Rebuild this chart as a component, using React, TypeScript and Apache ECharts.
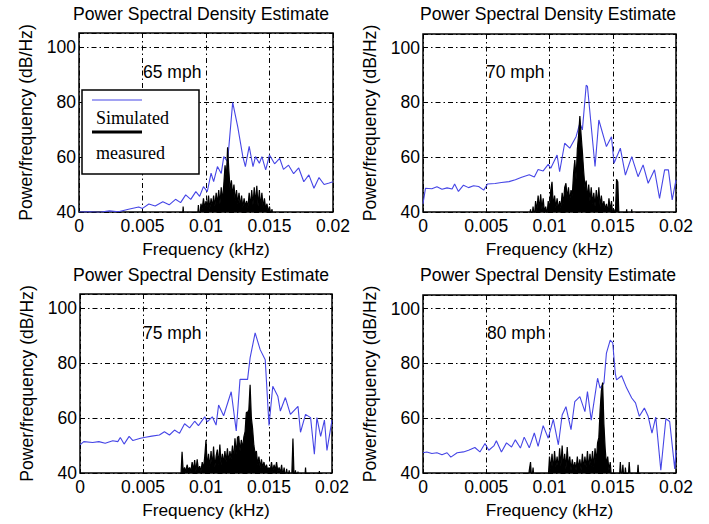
import React, { useEffect, useRef } from "react";
import * as echarts from "echarts";

// ---------- data ----------
const panelTitles = [
  "Power Spectral Density Estimate",
  "Power Spectral Density Estimate",
  "Power Spectral Density Estimate",
  "Power Spectral Density Estimate",
];
const speedLabels = ["65 mph", "70 mph", "75 mph", "80 mph"];
const legendLabels = ["Simulated", "measured"];
const xTicks = [0, 0.005, 0.01, 0.015, 0.02];
const yTicks = [40, 60, 80, 100];

// Simulated PSD: [frequency kHz, dB/Hz]
const sim65: [number, number][] = [
  [0, 40], [0.0008, 40.1], [0.0016, 39.9], [0.0024, 40.4], [0.0031, 40.1], [0.0039, 41.0],
  [0.0047, 41.8], [0.005, 41.3], [0.0055, 42.9], [0.006, 42.2], [0.0066, 43.7], [0.0071, 42.6],
  [0.0076, 44.6], [0.008, 43.4], [0.0084, 46.2], [0.0088, 44.6], [0.0092, 47.4], [0.0095, 45.7],
  [0.0098, 49.2], [0.0101, 47.4], [0.0104, 54.1], [0.0106, 51.0], [0.0109, 56.5], [0.0112, 54.0],
  [0.0114, 60.1], [0.0117, 58.3], [0.0121, 79.8], [0.0125, 70.9], [0.0129, 60.1], [0.0131, 56.5],
  [0.0134, 63.8], [0.0137, 56.5], [0.0139, 60.1], [0.0142, 57.7], [0.0144, 60.1], [0.0147, 55.3],
  [0.015, 60.7], [0.0154, 57.5], [0.0158, 59.5], [0.0161, 55.5], [0.0165, 57.0], [0.0169, 53.9],
  [0.0173, 56.0], [0.0177, 51.0], [0.0181, 53.5], [0.0185, 48.6], [0.0189, 52.5], [0.0193, 50.0],
  [0.0197, 50.5], [0.02, 51.0],
];
const sim70: [number, number][] = [
  [0, 43], [0.0002, 48.7], [0.0007, 48.5], [0.0011, 49.2], [0.0015, 48.3], [0.0019, 48.8],
  [0.0023, 48.4], [0.0025, 50.2], [0.0028, 47.5], [0.0032, 49.8], [0.0036, 48.9], [0.004, 49.6],
  [0.0044, 49.3], [0.0048, 48.0], [0.0051, 50.2], [0.0057, 50.4], [0.0062, 50.8], [0.0068, 51.1],
  [0.0073, 51.8], [0.0078, 52.7], [0.0084, 53.6], [0.0088, 52.8], [0.0091, 55.5], [0.0095, 55.0],
  [0.0099, 57.4], [0.0101, 56.0], [0.0106, 60.8], [0.0108, 54.7], [0.0112, 65.1], [0.0116, 63.3],
  [0.0121, 67.5], [0.0124, 72.4], [0.0126, 70.0], [0.0129, 86.3], [0.013, 85.9], [0.0136, 56.6],
  [0.0139, 73.6], [0.0145, 63.9], [0.0149, 67.5], [0.0151, 57.8], [0.0156, 63.3], [0.016, 53.5],
  [0.0165, 60.2], [0.017, 52.9], [0.0174, 57.2], [0.0178, 50.5], [0.0183, 55.4], [0.0187, 45.0],
  [0.0191, 55.4], [0.0194, 55.4], [0.0197, 44.4], [0.02, 51.7],
];
const sim75: [number, number][] = [
  [0, 50.2], [0.0003, 51.4], [0.001, 51.1], [0.0015, 51.4], [0.002, 50.8], [0.0026, 51.7],
  [0.003, 51.4], [0.0032, 52.9], [0.0035, 50.5], [0.0039, 53.3], [0.0042, 51.8], [0.0048, 52.6],
  [0.0052, 53.0], [0.0057, 53.4], [0.0063, 53.8], [0.0067, 55.0], [0.0071, 53.8], [0.0075, 55.6],
  [0.0079, 54.4], [0.0083, 57.9], [0.0087, 56.4], [0.0091, 58.8], [0.0094, 57.2], [0.0099, 60.4],
  [0.0101, 58.6], [0.0105, 60.4], [0.0108, 57.4], [0.011, 64.7], [0.0114, 60.8], [0.012, 69.5],
  [0.0124, 55.3], [0.0127, 74.0], [0.0133, 74.0], [0.0135, 81.8], [0.0139, 90.9], [0.0143, 84.8],
  [0.0147, 81.1], [0.015, 57.3], [0.0153, 71.5], [0.0157, 67.9], [0.0159, 62.5], [0.0163, 67.4],
  [0.0167, 61.3], [0.0173, 64.2], [0.0175, 54.8], [0.0179, 61.3], [0.0183, 60.1], [0.0186, 46.8],
  [0.0188, 60.1], [0.0191, 53.3], [0.0194, 59.2], [0.0196, 48.2], [0.02, 59.2],
];
const sim80: [number, number][] = [
  [0, 47.4], [0.0003, 47.7], [0.0007, 47.1], [0.0011, 47.4], [0.0015, 46.7], [0.0019, 47.4],
  [0.0022, 45.8], [0.0027, 47.4], [0.0032, 47.7], [0.0036, 48.3], [0.0041, 49.3], [0.0045, 47.7],
  [0.0049, 50.8], [0.0052, 48.3], [0.0056, 49.9], [0.0058, 51.8], [0.0062, 47.7], [0.0066, 51.0],
  [0.007, 49.5], [0.0073, 52.1], [0.0077, 49.1], [0.008, 53.1], [0.0084, 49.2], [0.0088, 54.6],
  [0.0091, 49.7], [0.0095, 57.3], [0.0099, 52.7], [0.0103, 59.6], [0.0107, 50.3], [0.011, 61.2],
  [0.0113, 64.2], [0.0117, 55.8], [0.012, 66.1], [0.0124, 67.9], [0.0128, 62.4], [0.013, 69.7],
  [0.0133, 59.3], [0.0138, 74.6], [0.014, 71.0], [0.0143, 72.8], [0.0145, 83.8], [0.0148, 88.5],
  [0.015, 87.5], [0.0152, 76.4], [0.0153, 74.0], [0.0157, 75.5], [0.0161, 71.0], [0.0165, 67.4],
  [0.0168, 65.6], [0.0171, 60.7], [0.0175, 63.7], [0.0178, 60.7], [0.0181, 54.6], [0.0184, 60.4],
  [0.0188, 41.0], [0.0192, 59.8], [0.0195, 58.8], [0.0199, 41.5], [0.02, 48.3],
];

// Measured PSD: sampled every MEAS_STEP kHz starting at measXXStart
const MEAS_STEP = 0.0001;
const meas65Start = 0.008;
const meas65 = [
  36, 34, 42, 35, 37, 34, 36, 35, 37, 34, 36, 35, 37, 36, 42.5, 37,
  43, 41, 45, 41.5, 44, 42, 46, 41, 45, 42, 46, 42, 47, 43, 48, 43, 49, 44, 50, 57,
  52, 63.5, 55, 48, 51.5, 46, 50, 44, 48, 43, 47, 42, 46, 41.5, 45, 42, 44, 41.5, 47, 42,
  48, 42.5, 49, 43, 49.5, 42, 48, 42, 47, 41.5, 45, 41, 43, 40, 42, 39, 41, 36, 35,
];
const meas70Start = 0.0084;
const meas70 = [
  38, 41, 37, 42, 38, 44, 40.5, 46, 41, 46.5,
  41, 45, 40, 42, 39, 44, 41, 48, 51, 42,
  46, 41.5, 45, 41, 44, 41.5, 47, 43, 49, 50.5,
  45, 49, 44, 48, 46, 54, 59, 52, 63, 68,
  75, 68, 62, 55, 49, 51.5, 45, 50, 44, 49,
  43, 47, 42, 48, 42.5, 49, 42, 46, 41.5, 44,
  41, 43, 40, 45, 40.5, 44, 39, 41, 38, 52,
  51, 37, 36, 37, 36, 35, 36, 41, 35, 36,
  35, 41, 35,
];
const meas75Start = 0.0078;
const meas75 = [
  36, 37, 38, 47.7, 40, 42, 40.5, 43, 41, 42,
  40.5, 44, 41, 44.7, 40.5, 45, 41, 42.5, 40.5, 44,
  41.5, 46, 52, 42, 47, 42, 48, 42.5, 49.6, 42,
  46, 48.5, 43, 50.3, 43, 47, 43.5, 48, 44, 49,
  44, 48, 45, 50, 45, 52.6, 47, 53, 53.3, 48,
  52, 49, 53, 55, 62, 62, 63, 72, 60, 56,
  50, 47, 48, 43, 46, 42, 45, 42, 44, 41.5,
  43, 41, 42, 41, 44, 40.5, 43, 41, 44, 40.5,
  42, 40, 43, 39, 42, 38, 41.5, 38, 41, 37,
  38, 52.5, 37, 41, 36, 40.5, 36, 37, 35, 36,
  35, 42, 35, 36, 35, 36, 35, 36, 35, 36,
  35, 36, 40.7, 35,
];
const meas80Start = 0.0079;
const meas80 = [
  36, 37, 36, 38, 36, 41, 44, 37, 42, 36,
  38, 37, 36, 38, 36, 37, 36, 38, 36, 37,
  38, 46, 41.5, 47, 41, 48, 42, 46, 41.5, 49,
  42.5, 50, 42, 47, 41.5, 49.5, 42, 46, 41, 45,
  41.5, 44, 41, 46, 41.5, 45, 41, 47, 41.5, 46,
  42, 48, 41.5, 47, 42.5, 48, 42, 49, 44, 51,
  53, 63, 70, 73, 58, 49, 43, 46, 41, 44,
  38, 39, 37, 38, 36, 37, 36, 44, 37, 43,
  36, 42, 37, 36, 44, 37, 36, 35, 36, 35,
  36, 43, 36, 35,
];

const simSeries = [sim65, sim70, sim75, sim80];
const measSeries: [number, number[]][] = [
  [meas65Start, meas65],
  [meas70Start, meas70],
  [meas75Start, meas75],
  [meas80Start, meas80],
];

// ---------- layout ----------
const FONT = "Liberation Sans";
const grids = [
  { left: 79, top: 33, width: 254, height: 179 },
  { left: 423, top: 34, width: 253, height: 178 },
  { left: 80, top: 294, width: 252, height: 179 },
  { left: 423, top: 295, width: 253, height: 178 },
];
const titlePos = [
  [201, 14],
  [548, 14],
  [201, 275],
  [548, 275],
];
const speedPos = [
  [143, 72],
  [486, 72],
  [143, 333],
  [487, 333],
];

const toPairs = (start: number, vals: number[]) =>
  vals.map((v, i) => [Math.round((start + i * MEAS_STEP) * 1e5) / 1e5, v]);

const fmtX = (v: number) => {
  const r = Math.round(v * 10000) / 10000;
  return xTicks.some((t) => Math.abs(t - r) < 1e-9) ? String(r) : "";
};
const fmtY = (v: number) => (yTicks.includes(Math.round(v)) ? String(Math.round(v)) : "");

const dashDot = [5, 3, 1.5, 3];

export default function App() {
  const ref = useRef<HTMLDivElement>(null);
  useEffect(() => {
    document.body.style.margin = "0";
    if (!ref.current) return;
    const chart = echarts.init(ref.current, undefined, { renderer: "svg" });

    const xAxis = grids.map((_, i) => ({
      type: "value",
      gridIndex: i,
      min: 0,
      max: 0.02,
      interval: 0.005,
      axisLine: { show: false },
      axisTick: { show: true, inside: true, length: 4, lineStyle: { color: "#000", width: 1 } },
      axisLabel: { color: "#000", fontFamily: FONT, fontSize: 17.5, margin: 5, formatter: fmtX },
      splitLine: { show: true, lineStyle: { color: "#000", width: 1, type: dashDot } },
      name: "Frequency (kHz)",
      nameLocation: "middle",
      nameGap: 28,
      nameTextStyle: { color: "#000", fontFamily: FONT, fontSize: 17.3 },
    }));
    const yAxis = grids.map((_, i) => ({
      type: "value",
      gridIndex: i,
      min: 40,
      max: 105,
      interval: 20,
      axisLine: { show: false },
      axisTick: { show: true, inside: true, length: 4, lineStyle: { color: "#000", width: 1 } },
      axisLabel: { color: "#000", fontFamily: FONT, fontSize: 17.5, margin: 3, formatter: fmtY },
      splitLine: { show: true, lineStyle: { color: "#000", width: 1, type: dashDot } },
      name: "Power/frequency (dB/Hz)",
      nameLocation: "middle",
      nameGap: 44,
      nameTextStyle: { color: "#000", fontFamily: FONT, fontSize: 17.6 },
    }));

    const series: any[] = [];
    grids.forEach((_, i) => {
      series.push({
        type: "line",
        name: legendLabels[0],
        xAxisIndex: i,
        yAxisIndex: i,
        data: simSeries[i],
        showSymbol: false,
        symbol: "none",
        lineStyle: { color: "#4646e6", width: 1.1 },
        z: 3,
      });
      series.push({
        type: "line",
        name: legendLabels[1],
        xAxisIndex: i,
        yAxisIndex: i,
        data: toPairs(measSeries[i][0], measSeries[i][1]),
        showSymbol: false,
        symbol: "none",
        lineStyle: { color: "#000", width: 1.2 },
        areaStyle: { color: "#000", opacity: 1 },
        z: 4,
      });
    });

    const graphic: any[] = [];
    panelTitles.forEach((t, i) => {
      graphic.push({
        type: "text",
        x: titlePos[i][0],
        y: titlePos[i][1],
        style: { text: t, fontFamily: FONT, fontSize: 17.6, fill: "#000", align: "center", verticalAlign: "middle" },
      });
    });
    speedLabels.forEach((t, i) => {
      graphic.push({
        type: "text",
        x: speedPos[i][0],
        y: speedPos[i][1],
        z: 50,
        style: { text: t, fontFamily: FONT, fontSize: 17.5, fill: "#000", align: "left", verticalAlign: "middle" },
      });
    });
    graphic.push({
      type: "group",
      z: 100,
      children: [
        { type: "rect", shape: { x: 82, y: 90, width: 117, height: 84 }, style: { fill: "#fff", stroke: "#000", lineWidth: 1.5 }, z: 100 },
        { type: "line", shape: { x1: 92, y1: 100, x2: 142, y2: 100 }, style: { stroke: "#4646e6", lineWidth: 1.2 }, z: 101 },
        { type: "text", x: 96, y: 118, z: 101, style: { text: legendLabels[0], fontFamily: "Liberation Serif", fontSize: 18, fill: "#000", align: "left", verticalAlign: "middle" } },
        { type: "line", shape: { x1: 92, y1: 132, x2: 142, y2: 132 }, style: { stroke: "#000", lineWidth: 3 }, z: 101 },
        { type: "text", x: 96, y: 153, z: 101, style: { text: legendLabels[1], fontFamily: "Liberation Serif", fontSize: 18, fill: "#000", align: "left", verticalAlign: "middle" } },
      ],
    });

    chart.setOption({
      animation: false,
      backgroundColor: "#fff",
      grid: grids.map((g) => ({ ...g, show: true, borderColor: "#000", borderWidth: 1.5, backgroundColor: "#fff", containLabel: false })),
      xAxis,
      yAxis,
      series,
      graphic,
    });
    return () => chart.dispose();
  }, []);
  return <div ref={ref} style={{ width: 709, height: 524 }} />;
}
